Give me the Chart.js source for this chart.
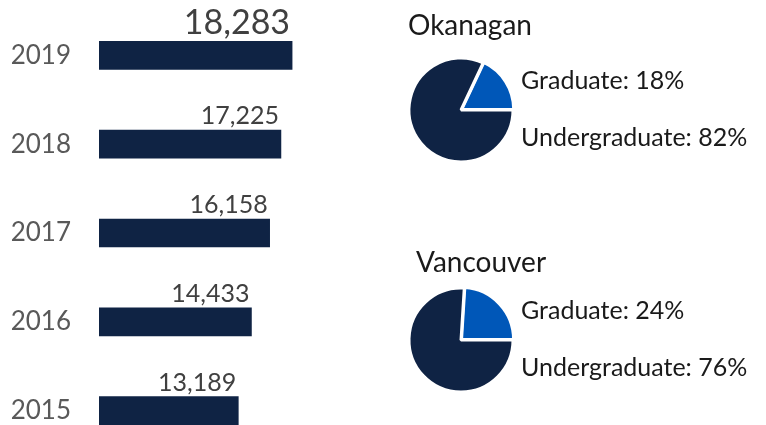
<!DOCTYPE html>
<html>
<head>
<meta charset="utf-8">
<script src="https://cdn.jsdelivr.net/npm/chart.js@4.4.1/dist/chart.umd.min.js"></script>
<style>
  html, body { margin: 0; padding: 0; background: #fff; }
  body { width: 766px; height: 425px; overflow: hidden; position: relative; }
  canvas { position: absolute; }
</style>
</head>
<body>
<canvas id="bars" width="400" height="455" style="left:0;top:0"></canvas>
<canvas id="pieOk" width="366" height="210" style="left:400px;top:0"></canvas>
<canvas id="pieVan" width="366" height="210" style="left:400px;top:215px"></canvas>
<script>
// Enrolment by year
const years = ['2019', '2018', '2017', '2016', '2015'];
const enrolment = [18283, 17225, 16158, 14433, 13189];

// Campus split
const levels = ['Graduate', 'Undergraduate'];
const okanaganShare = [18, 82];
const vancouverShare = [24, 76];

const NAVY = '#0f2344';
const BLUE = '#0057b8';
const FONT = 'Lato, "Open Sans", sans-serif';

// labels over bars, the latest year written bigger
const barValueLabels = {
    id: 'barValueLabels',
    afterDatasetsDraw(chart) {
        const ctx = chart.ctx;
        const meta = chart.getDatasetMeta(0);
        ctx.save();
        ctx.fillStyle = '#404040';
        ctx.textAlign = 'right';
        ctx.textBaseline = 'alphabetic';
        meta.data.forEach((bar, i) => {
            const big = i === 0;
            ctx.font = (big ? '34px ' : '25px ') + FONT;
            const v = chart.data.datasets[0].data[i];
            ctx.fillText(v.toLocaleString('en-US'), bar.x - 2, bar.y - bar.height / 2 - (big ? 7 : 6));
        });
        ctx.restore();
    }
};

new Chart(document.getElementById('bars'), {
    type: 'bar',
    data: {
        labels: years,
        datasets: [{
            data: enrolment,
            backgroundColor: NAVY,
            barThickness: 28
        }]
    },
    options: {
        indexAxis: 'y',
        responsive: false,
        animation: false,
        layout: { padding: { top: 11, left: 0, right: 0, bottom: 0 } },
        scales: {
            x: { display: false, min: 0, max: 28500 },
            y: {
                grid: { display: false, drawTicks: false },
                border: { display: false },
                ticks: {
                    color: '#595959',
                    font: { family: FONT, size: 26 },
                    padding: 28
                },
                afterFit(scale) {
                    scale.width = 99;
                    // tick padding should not eat vertical room
                    scale.paddingTop = 0;
                    scale.paddingBottom = 0;
                }
            }
        },
        plugins: {
            legend: { display: false },
            tooltip: { enabled: false }
        }
    },
    plugins: [barValueLabels]
});

// campus name + "Label: n%" next to the pie
const pieSideLabels = {
    id: 'pieSideLabels',
    afterDraw(chart, args, opts) {
        const ctx = chart.ctx;
        const arc = chart.getDatasetMeta(0).data[1];
        const cx = arc.x, cy = arc.y;
        ctx.save();
        ctx.fillStyle = '#1a1a1a';
        ctx.textAlign = 'left';
        ctx.textBaseline = 'middle';
        ctx.font = '28px ' + FONT;
        ctx.fillText(opts.title, cx + opts.titleDx, cy + opts.titleDy);
        ctx.font = '25px ' + FONT;
        const vals = chart.data.datasets[0].data;
        chart.data.labels.forEach((lab, i) => {
            ctx.fillText(lab + ': ' + vals[i] + '%', cx + 60, cy + (i === 0 ? -29 : 28));
        });
        ctx.restore();
    }
};

function makePie(id, share, title, padTop, titleDx, titleDy) {
    return new Chart(document.getElementById(id), {
        type: 'pie',
        data: {
            labels: levels,
            datasets: [{
                data: share,
                backgroundColor: [BLUE, NAVY],
                borderColor: '#fff',
                borderWidth: 3,
                offset: [3, 0]
            }]
        },
        options: {
            responsive: false,
            animation: false,
            rotation: 90 - share[0] * 3.6,
            layout: { padding: { left: 6, top: padTop, right: 250, bottom: 100 - padTop } },
            plugins: {
                legend: { display: false },
                tooltip: { enabled: false },
                pieSideLabels: { title: title, titleDx: titleDx, titleDy: titleDy }
            }
        },
        plugins: [pieSideLabels]
    });
}

makePie('pieOk', okanaganShare, 'Okanagan', 55, -53, -84);
makePie('pieVan', vancouverShare, 'Vancouver', 70, -45, -77);
</script>
</body>
</html>
